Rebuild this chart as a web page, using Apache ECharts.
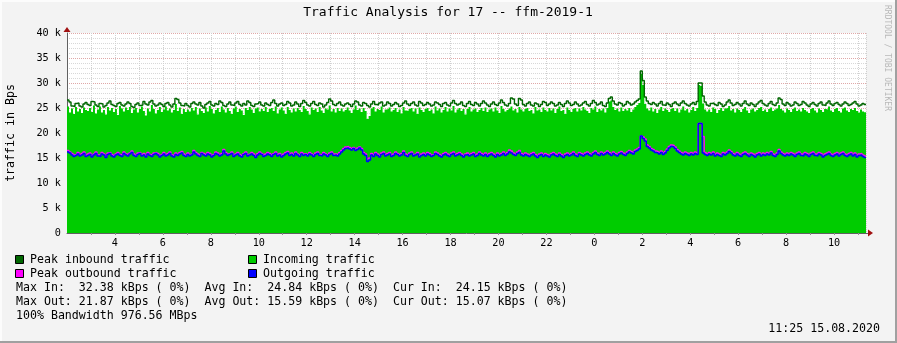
<!DOCTYPE html>
<html>
<head>
<meta charset="utf-8">
<script src="https://cdn.jsdelivr.net/npm/echarts@6/dist/echarts.min.js"></script>
<style>
html,body{margin:0;padding:0;background:#f3f3f3;}
#c{width:897px;height:343px;}
</style>
</head>
<body>
<div id="c"></div>
<script>
// ---- data (kBps), one value per 5-minute step, starting 02:00 of day 1 ----
const startHour = 2;
const stepHours = 1 / 12;
const peakIn = [
26.6,26.2,25.4,25.3,25.9,26.0,25.4,25.2,25.8,26.1,
25.7,25.5,26.3,26.2,25.6,25.3,25.9,25.8,25.2,25.5,
26.0,26.4,25.7,25.5,25.3,25.9,26.1,25.6,25.4,25.8,
26.2,25.9,25.3,25.1,25.7,26.0,25.5,25.6,26.3,25.8,
25.6,26.2,26.5,25.8,25.4,25.6,26.0,25.7,25.3,25.9,
26.1,25.6,25.2,25.8,26.9,26.7,26.0,25.5,25.4,25.9,
25.5,25.2,25.9,26.2,25.8,25.6,26.1,25.4,25.0,25.7,
26.0,26.3,25.6,25.4,25.9,25.7,26.4,26.1,25.5,25.3,
25.8,26.2,25.6,25.5,26.0,26.3,25.7,25.4,25.9,25.6,
26.4,26.1,25.5,25.3,25.8,25.9,26.2,25.6,25.4,26.0,
25.7,25.5,26.1,26.6,25.9,25.4,25.8,26.0,25.5,25.7,
26.3,26.0,25.4,25.6,26.2,25.8,25.3,25.9,26.5,26.1,
25.6,25.4,25.9,26.3,25.7,25.5,26.0,25.8,25.2,25.6,
26.1,26.8,26.4,25.7,25.5,25.9,26.2,25.6,25.4,25.8,
26.0,25.7,25.3,25.8,26.4,26.2,25.6,25.4,26.1,25.9,
25.5,25.2,25.8,26.3,25.7,25.6,26.0,26.2,25.4,25.6,
26.2,25.9,25.4,25.7,26.1,25.8,25.3,25.5,26.0,26.4,
25.8,25.5,25.9,26.2,25.6,25.4,26.3,26.0,25.5,25.7,
26.1,25.8,25.4,25.6,26.2,26.0,25.7,25.3,25.9,26.1,
25.6,25.4,26.0,26.5,25.9,25.6,25.8,26.2,25.5,25.3,
25.9,26.3,25.7,25.5,26.1,25.8,25.4,25.9,26.4,26.0,
25.6,25.3,25.8,26.2,25.7,25.5,26.0,26.6,26.1,25.6,
25.4,25.9,27.0,26.8,25.8,25.5,26.9,26.6,25.7,25.4,
25.9,26.2,25.6,25.4,26.0,25.8,25.3,25.7,26.3,26.1,
25.5,25.8,26.2,25.9,25.4,25.6,26.1,25.7,25.3,25.9,
26.4,26.0,25.5,25.7,26.2,25.8,25.4,25.6,26.0,26.3,
25.7,25.4,25.9,26.5,26.1,25.6,25.8,26.2,25.5,25.3,
26.0,26.9,27.2,26.4,25.8,25.6,26.1,25.9,25.4,25.7,
26.3,26.0,25.6,25.8,26.2,26.5,26.8,32.4,30.5,27.2,
26.4,25.9,25.7,26.1,25.8,25.4,25.9,26.3,25.6,25.5,
26.0,25.7,25.3,25.9,26.2,25.8,25.5,26.0,26.4,25.9,
25.6,25.4,25.8,26.1,25.7,26.3,30.0,30.0,27.4,26.2,
25.6,25.4,25.9,26.0,25.7,25.5,26.1,25.8,25.3,25.6,
26.2,26.6,26.0,25.5,25.7,26.1,25.8,25.4,25.9,26.4,
25.8,25.5,26.0,25.7,25.3,25.8,26.2,26.5,25.9,25.6,
25.4,25.9,26.3,25.7,25.5,26.0,27.0,26.7,25.8,25.5,
26.1,25.8,25.4,25.6,26.2,25.9,25.5,25.7,26.3,26.0,
25.6,25.3,25.8,26.1,25.7,25.4,25.9,26.2,25.6,25.5,
26.0,26.4,25.8,25.5,25.9,26.1,25.7,25.4,25.8,26.2,
25.9,25.5,25.7,26.0,26.3,25.8,25.4,25.6,25.9,25.7
];
const incoming = [
25.3,24.1,24.9,23.8,25.2,24.3,24.8,24.0,25.1,24.6,
24.4,25.0,24.2,25.5,23.9,24.7,25.3,24.1,24.6,23.7,
25.2,24.5,25.0,24.2,24.8,23.6,25.4,24.9,24.3,25.1,
24.6,25.2,24.0,24.7,25.0,24.1,24.8,25.3,24.4,23.5,
24.9,24.3,25.6,24.8,23.9,24.6,25.2,24.2,24.7,25.3,
24.5,24.9,24.1,24.6,25.8,24.4,25.1,23.8,24.8,24.2,
24.7,24.3,25.0,24.5,25.2,23.7,24.9,24.4,24.0,25.1,
24.3,25.4,24.8,23.9,24.6,25.0,24.2,25.3,24.7,24.1,
25.0,24.4,23.8,24.9,25.3,24.2,24.8,24.5,23.6,25.0,
24.6,25.2,24.7,24.0,24.9,25.1,24.3,24.8,24.4,25.2,
24.2,24.8,25.0,24.4,25.3,23.9,24.7,25.1,24.5,23.8,
25.2,24.6,24.1,24.9,24.3,25.0,24.6,24.2,25.4,24.8,
24.4,23.7,25.1,24.6,24.9,24.2,25.2,24.5,24.0,24.9,
24.7,25.5,24.3,24.8,24.1,25.0,24.4,24.9,24.3,24.6,
25.1,24.5,24.0,24.7,25.5,24.6,24.9,24.2,25.0,24.4,
22.8,23.4,24.9,25.2,24.3,24.8,24.6,25.3,24.1,24.7,
24.8,25.1,24.3,24.6,25.0,24.2,24.7,23.9,25.2,24.5,
24.4,24.8,25.0,24.3,24.9,23.8,25.1,24.6,24.2,24.8,
25.0,24.4,24.7,23.9,25.3,24.5,24.9,24.1,24.6,25.2,
24.3,24.9,24.5,25.4,24.1,24.7,25.0,24.4,24.8,23.7,
24.8,25.2,24.3,24.7,24.9,24.2,24.6,25.0,24.4,25.1,
24.2,24.7,24.9,24.3,25.1,24.5,24.0,25.4,24.8,24.3,
24.6,24.9,25.3,24.5,24.8,24.1,25.2,24.7,24.3,24.8,
25.0,24.4,24.6,23.9,25.2,24.5,24.7,24.2,25.1,24.6,
24.3,25.0,24.5,24.9,24.0,24.8,25.3,24.4,24.6,23.8,
25.1,24.6,24.2,24.8,25.0,24.3,24.9,24.5,25.2,24.7,
24.4,24.0,25.0,24.7,25.3,24.2,24.8,24.5,24.9,24.1,
25.0,26.3,26.5,25.2,24.6,24.9,24.3,25.1,24.4,24.8,
24.5,25.0,24.2,24.7,25.2,25.6,26.0,31.8,29.6,25.8,
24.9,24.5,25.1,24.3,24.8,24.0,24.7,25.2,24.4,24.9,
24.6,24.2,24.8,25.0,24.4,24.9,24.1,24.7,25.3,24.5,
24.8,24.1,24.6,25.2,24.4,25.0,29.6,29.4,25.9,24.7,
24.3,24.7,24.2,25.1,24.8,24.0,24.6,25.0,24.4,24.9,
25.0,25.4,24.5,24.8,24.1,24.9,24.6,24.2,24.8,25.2,
24.5,24.0,24.7,24.9,24.3,24.6,25.0,25.2,24.4,24.7,
24.2,24.8,25.1,24.4,24.7,24.9,25.6,24.8,24.5,24.1,
24.9,24.6,24.2,24.8,25.1,24.4,24.7,24.3,25.0,24.6,
24.3,24.0,24.8,25.0,24.5,24.1,24.9,24.6,24.2,24.8,
24.7,25.3,24.5,24.2,24.8,25.0,24.4,24.1,24.9,25.1,
24.5,24.2,24.8,24.6,25.0,24.4,24.1,24.7,24.3,24.15
];
const peakOut = [
16.5,16.2,15.9,15.6,15.7,16.1,15.6,15.9,16.2,15.5,
15.8,16.0,15.5,15.8,16.2,15.6,15.6,16.1,15.8,15.4,
16.0,16.1,15.7,15.5,15.8,16.1,15.7,15.6,16.2,15.8,
15.7,16.0,16.4,15.8,15.5,16.0,16.1,15.7,15.9,15.5,
16.1,15.7,15.6,16.0,16.1,15.9,15.5,15.7,16.1,15.6,
15.9,16.2,15.6,15.5,16.0,15.7,16.1,16.3,15.8,15.5,
16.0,15.7,15.8,16.5,16.1,15.8,15.6,16.1,15.9,15.7,
16.1,15.9,15.5,15.7,16.2,16.0,15.6,15.9,16.7,16.1,
15.8,15.9,16.2,15.6,15.8,16.1,15.7,15.5,15.9,16.2,
15.7,15.8,16.1,15.8,15.4,15.9,16.2,15.9,15.6,15.8,
16.1,15.9,15.6,15.9,16.2,15.7,15.9,15.5,15.8,16.1,
16.3,15.8,16.0,15.7,16.2,15.8,15.6,16.1,15.8,15.9,
15.7,16.1,15.8,15.6,16.0,16.2,15.7,15.7,16.1,15.8,
15.6,16.0,16.2,15.8,15.8,15.7,16.1,16.5,16.9,17.2,
17.3,17.1,16.9,17.1,16.8,17.0,17.2,16.9,16.1,15.8,
14.8,15.0,15.9,15.6,16.1,15.8,15.5,16.0,16.2,15.7,
15.9,16.1,15.6,15.8,16.2,15.9,15.7,15.9,16.4,15.8,
15.6,16.0,16.2,15.7,15.8,16.1,15.5,15.8,16.0,15.7,
16.1,15.9,15.6,15.7,16.2,16.0,15.7,15.5,15.9,16.1,
15.8,15.6,16.0,16.2,15.7,15.9,16.1,15.8,15.5,15.8,
16.0,15.7,15.9,16.1,15.6,15.8,16.2,15.9,15.7,16.0,
15.6,15.9,16.1,15.8,15.5,16.0,15.7,15.9,16.2,15.8,
16.1,16.6,16.4,16.0,15.8,16.2,16.5,15.9,15.7,16.0,
15.8,15.6,15.9,16.1,15.7,15.4,15.8,16.0,15.6,15.9,
15.7,15.5,15.9,16.1,15.8,15.6,16.0,15.7,15.4,15.8,
16.0,15.7,15.9,16.2,15.8,15.6,16.1,15.9,15.7,16.0,
16.2,15.9,15.7,16.1,16.4,16.0,15.8,16.2,15.9,16.1,
16.4,16.1,15.8,16.2,15.9,15.7,16.1,16.3,16.0,15.8,
16.2,16.5,16.3,16.1,16.6,16.8,17.1,19.4,19.2,18.8,
17.6,17.3,16.9,16.7,16.4,16.3,16.1,16.4,16.0,16.3,
16.8,17.3,17.6,17.5,17.2,16.7,16.4,16.1,15.9,16.2,
16.0,15.8,16.1,15.9,16.2,16.0,21.9,21.9,19.3,16.1,
15.8,16.1,15.9,16.2,15.7,16.0,15.8,15.6,16.1,15.9,
16.2,16.6,16.3,15.9,15.7,16.1,15.8,15.6,16.0,16.2,
15.9,15.6,16.0,15.8,15.5,15.9,16.1,15.7,16.0,15.8,
16.1,15.9,16.3,15.8,15.6,16.0,16.7,16.2,15.9,15.7,
16.0,15.8,16.1,15.9,15.6,16.0,16.2,15.8,15.7,16.1,
15.9,15.6,16.0,16.2,15.8,15.7,16.1,15.9,15.5,15.8,
16.0,16.2,15.8,15.6,15.9,16.1,15.7,16.0,16.2,15.8,
15.6,15.9,16.1,15.7,16.0,15.5,15.8,15.9,15.6,15.4
];
const outgoing = [
16.2,16.0,15.6,15.3,15.5,15.8,15.4,15.6,15.9,15.3,
15.5,15.7,15.2,15.6,15.9,15.4,15.3,15.8,15.6,15.1,
15.7,15.9,15.4,15.2,15.6,15.8,15.5,15.3,15.9,15.6,
15.4,15.8,16.1,15.5,15.3,15.7,15.9,15.4,15.6,15.2,
15.8,15.5,15.3,15.7,15.9,15.6,15.2,15.5,15.8,15.4,
15.6,15.9,15.4,15.2,15.7,15.5,15.8,16.0,15.5,15.3,
15.7,15.4,15.6,16.2,15.8,15.5,15.3,15.9,15.6,15.4,
15.8,15.6,15.2,15.5,15.9,15.7,15.4,15.6,16.4,15.8,
15.5,15.7,15.9,15.3,15.6,15.8,15.4,15.2,15.7,15.9,
15.4,15.6,15.8,15.5,15.1,15.6,15.9,15.7,15.3,15.5,
15.8,15.6,15.3,15.7,15.9,15.4,15.6,15.2,15.5,15.8,
16.0,15.5,15.7,15.4,15.9,15.6,15.3,15.8,15.5,15.7,
15.4,15.8,15.6,15.3,15.7,15.9,15.5,15.4,15.8,15.6,
15.3,15.7,15.9,15.5,15.6,15.4,15.8,16.2,16.6,16.9,
17.0,16.8,16.6,16.9,16.5,16.7,17.0,16.6,15.8,15.5,
14.3,14.6,15.6,15.3,15.8,15.5,15.2,15.7,15.9,15.4,
15.6,15.8,15.3,15.5,15.9,15.7,15.4,15.6,16.1,15.5,
15.3,15.7,15.9,15.4,15.6,15.8,15.2,15.5,15.7,15.4,
15.8,15.6,15.3,15.5,15.9,15.7,15.4,15.2,15.6,15.8,
15.5,15.3,15.7,15.9,15.4,15.6,15.8,15.5,15.2,15.6,
15.7,15.4,15.6,15.8,15.3,15.5,15.9,15.6,15.4,15.7,
15.3,15.6,15.8,15.5,15.2,15.7,15.4,15.6,15.9,15.5,
15.8,16.2,16.0,15.7,15.5,15.9,16.1,15.6,15.4,15.7,
15.5,15.3,15.6,15.8,15.4,15.1,15.5,15.7,15.3,15.6,
15.4,15.2,15.6,15.8,15.5,15.3,15.7,15.4,15.1,15.5,
15.7,15.4,15.6,15.9,15.5,15.3,15.8,15.6,15.4,15.7,
15.9,15.6,15.4,15.8,16.1,15.7,15.5,15.9,15.6,15.8,
16.1,15.8,15.5,15.9,15.6,15.4,15.8,16.0,15.7,15.5,
15.9,16.2,16.0,15.8,16.3,16.5,16.8,19.4,18.9,18.4,
17.3,17.0,16.6,16.4,16.1,16.0,15.8,16.1,15.7,16.0,
16.5,17.0,17.3,17.2,16.9,16.4,16.1,15.8,15.6,15.9,
15.7,15.5,15.8,15.6,15.9,15.7,21.9,21.9,16.0,15.7,
15.5,15.8,15.6,15.9,15.4,15.7,15.5,15.3,15.8,15.6,
15.9,16.3,16.0,15.6,15.4,15.8,15.5,15.3,15.7,15.9,
15.6,15.3,15.7,15.5,15.2,15.6,15.8,15.4,15.7,15.5,
15.8,15.6,16.0,15.5,15.3,15.7,16.4,15.9,15.6,15.4,
15.7,15.5,15.8,15.6,15.3,15.7,15.9,15.5,15.4,15.8,
15.6,15.3,15.7,15.9,15.5,15.4,15.8,15.6,15.2,15.5,
15.7,15.9,15.5,15.3,15.6,15.8,15.4,15.7,15.9,15.5,
15.3,15.6,15.8,15.4,15.7,15.2,15.5,15.6,15.3,15.07
];
const legendItems = [
  {name: 'Peak inbound traffic', color: '#006600'},
  {name: 'Incoming traffic', color: '#00cc00'},
  {name: 'Peak outbound traffic', color: '#ff00ff'},
  {name: 'Outgoing traffic', color: '#0000ff'}
];
const statLines = [
  'Max In:  32.38 kBps ( 0%)  Avg In:  24.84 kBps ( 0%)  Cur In:  24.15 kBps ( 0%)',
  'Max Out: 21.87 kBps ( 0%)  Avg Out: 15.59 kBps ( 0%)  Cur Out: 15.07 kBps ( 0%)',
  '100% Bandwidth 976.56 MBps'
];
const titleText = 'Traffic Analysis for 17 -- ffm-2019-1';
const stampText = '11:25 15.08.2020';
const yName = 'traffic in Bps';
const watermark = 'RRDTOOL / TOBI OETIKER';

// ---- build series data ----
function toPairs(arr) {
  const out = arr.map((v, i) => [startHour + i * stepHours, v]);
  out.push([startHour + arr.length * stepHours, arr[arr.length - 1]]);
  return out;
}
const xMax = startHour + peakIn.length * stepHours;

const MONO = '"DejaVu Sans Mono", monospace';
const chart = echarts.init(document.getElementById('c'), null, {renderer: 'canvas'});

const graphics = [];
// frame
graphics.push({type:'rect', shape:{x:0,y:0,width:897,height:2}, style:{fill:'#fcfcfc'}, silent:true});
graphics.push({type:'rect', shape:{x:0,y:0,width:2,height:343}, style:{fill:'#fcfcfc'}, silent:true});
graphics.push({type:'rect', shape:{x:0,y:341,width:897,height:2}, style:{fill:'#a0a0a0'}, silent:true});
graphics.push({type:'rect', shape:{x:895,y:0,width:2,height:343}, style:{fill:'#a0a0a0'}, silent:true});
// title
graphics.push({type:'text', style:{text:titleText, x:448, y:13, textAlign:'center', textVerticalAlign:'middle', font:'13px '+MONO, fill:'#000'}});
// y axis name
graphics.push({type:'text', x:11, y:133, rotation:Math.PI/2, style:{text:yName, x:0, y:0, textAlign:'center', textVerticalAlign:'middle', font:'11.6px '+MONO, fill:'#000'}});
// watermark
graphics.push({type:'text', x:887, y:5, rotation:-Math.PI/2, style:{text:watermark, x:0, y:0, textAlign:'left', textVerticalAlign:'middle', font:'8px '+MONO, fill:'#b8b8b8'}});
// arrows
graphics.push({type:'polygon', shape:{points:[[67,27],[63.5,32],[70.5,32]]}, style:{fill:'#a01010'}});
graphics.push({type:'polygon', shape:{points:[[873,233],[868,229.5],[868,236.5]]}, style:{fill:'#a01010'}});
graphics.push({type:'line', shape:{x1:866,y1:233.5,x2:868,y2:233.5}, style:{stroke:'#606060',lineWidth:1}});
// legend
const legPos = [[15,255,30],[248,255,263],[15,269,30],[248,269,263]];
legendItems.forEach((it, i) => {
  const p = legPos[i];
  graphics.push({type:'rect', shape:{x:p[0]+0.5,y:p[1]+0.5,width:8,height:8}, style:{fill:it.color, stroke:'#000', lineWidth:1}});
  graphics.push({type:'text', style:{text:it.name, x:p[2], y:p[1]+4.5, textAlign:'left', textVerticalAlign:'middle', font:'11.6px '+MONO, fill:'#000'}});
});
statLines.forEach((t, i) => {
  graphics.push({type:'text', style:{text:t, x:16, y:287.5 + i*14, textAlign:'left', textVerticalAlign:'middle', font:'11.6px '+MONO, fill:'#000'}});
});
graphics.push({type:'text', style:{text:stampText, x:880, y:329, textAlign:'right', textVerticalAlign:'middle', font:'11.6px '+MONO, fill:'#000'}});

const option = {
  backgroundColor: '#f3f3f3',
  animation: false,
  grid: {left: 67, top: 33, width: 799, height: 200, backgroundColor: '#ffffff', show: true, borderWidth: 0},
  xAxis: {
    type: 'value', min: startHour, max: xMax, interval: 1,
    axisLine: {show: true, lineStyle: {color: '#606060', width: 1}},
    axisTick: {show: true, length: 2, lineStyle: {color: '#909090'}},
    axisLabel: {
      color: '#000', fontFamily: 'DejaVu Sans Mono', fontSize: 10.2, margin: 5,
      showMinLabel: false, showMaxLabel: false,
      formatter: v => (Math.abs(v - Math.round(v)) < 1e-6 && Math.round(v) % 2 === 0 && Math.round(v) > startHour) ? String(Math.round(v) % 24) : ''
    },
    splitLine: {show: true, lineStyle: {color: '#d0d0d0', type: [1, 1], width: 1}}
  },
  yAxis: {
    type: 'value', min: 0, max: 40, interval: 5,
    axisLine: {show: true, lineStyle: {color: '#606060', width: 1}},
    axisTick: {show: false},
    minorTick: {show: false, splitNumber: 5},
    minorSplitLine: {show: true, lineStyle: {color: '#d8d8d8', type: [1, 1], width: 1}},
    axisLabel: {color: '#000', fontFamily: 'DejaVu Sans Mono', fontSize: 10.2, margin: 6,
      formatter: v => v === 0 ? '0' : v + ' k'},
    splitLine: {show: true, lineStyle: {color: '#e0a8a8', type: [1, 1], width: 1}}
  },
  series: [
    {name: 'Incoming traffic', type: 'line', step: 'end', data: toPairs(incoming), symbol: 'none',
     lineStyle: {width: 0}, areaStyle: {color: '#00cc00', opacity: 1}, itemStyle: {color: '#00cc00'}, z: 2},
    {name: 'Peak inbound traffic', type: 'line', step: 'end', data: toPairs(peakIn), symbol: 'none',
     lineStyle: {width: 1.4, color: '#006600'}, z: 3},
    {name: 'Peak outbound traffic', type: 'line', step: 'end', data: toPairs(peakOut), symbol: 'none',
     lineStyle: {width: 1.4, color: '#ff00ff'}, z: 4},
    {name: 'Outgoing traffic', type: 'line', step: 'end', data: toPairs(outgoing), symbol: 'none',
     lineStyle: {width: 1.4, color: '#0000ff'}, z: 5}
  ],
  graphic: graphics
};
chart.setOption(option);

// line/area paths merge segments shorter than 2px by default; keep every 2px step.
// (a threshold of 0 would leave the old unit in place, so use a tiny positive one)
const zr = chart.getZr();
zr.storage.getDisplayList(true).forEach(el => {
  if (el.segmentIgnoreThreshold) {
    el.segmentIgnoreThreshold = 0.001;
    if (el.dirtyShape) el.dirtyShape();
    el.markRedraw();
  }
});
zr.refreshImmediately();
</script>
</body>
</html>
